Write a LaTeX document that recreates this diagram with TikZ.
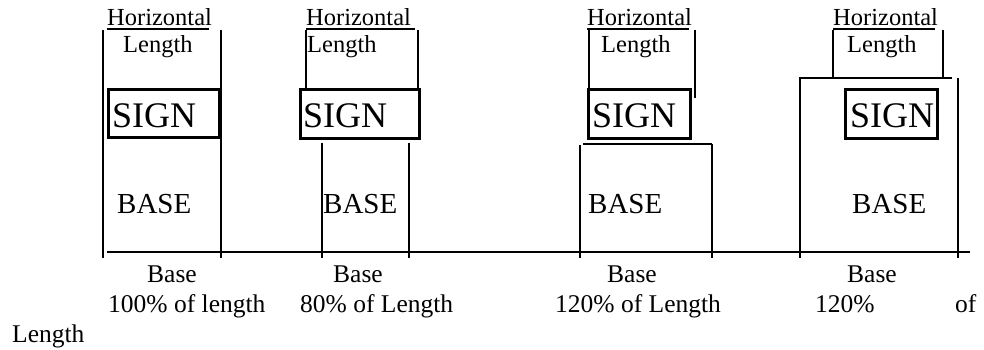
\documentclass[tikz,border=0pt]{standalone}
\usepackage{fontspec}
\setmainfont{Liberation Serif}
\begin{document}
\begin{tikzpicture}[x=1pt,y=-1pt,
  lbl/.style={inner sep=0pt,anchor=base west,font=\fontsize{24.5}{29}\selectfont},
  lblc/.style={inner sep=0pt,anchor=base,font=\fontsize{25.5}{30}\selectfont},
  lblw/.style={inner sep=0pt,anchor=base west,font=\fontsize{25.5}{30}\selectfont},
  signtxt/.style={inner sep=0pt,anchor=base west,font=\fontsize{36}{40}\selectfont},
  basetxt/.style={inner sep=0pt,anchor=base west,font=\fontsize{29}{34}\selectfont},
  ln/.style={line width=1.5pt},
  signbox/.style={line width=3pt},
  ul/.style={line width=1.2pt}]
\useasboundingbox (0,0) rectangle (984,350);
% Horizontal / Length labels
\node[lbl] (h1) at (107,26) {Horizontal};
\node[lbl] (h2) at (306,26) {Horizontal};
\node[lbl] (h3) at (587,26) {Horizontal};
\node[lbl] (h4) at (833,26) {Horizontal};
\draw[ul] (107,29) -- (209,29);
\draw[ul] (306,29) -- (415,29);
\draw[ul] (587,29) -- (689,29);
\draw[ul] (833,29) -- (935,29);
\node[lbl] (l1) at (123,53) {Length};
\node[lbl] (l2) at (307,53) {Length};
\node[lbl] (l3) at (601,53) {Length};
\node[lbl] (l4) at (847,53) {Length};
% SIGN boxes
\draw[signbox] (108,90) rectangle (219,137);
\draw[signbox] (300,90) rectangle (419,138);
\draw[signbox] (588,90) rectangle (690,138);
\draw[signbox] (845,90) rectangle (937,138);
\node[signtxt] (s1) at (112,128) {SIGN};
\node[signtxt] (s2) at (303,128) {SIGN};
\node[signtxt] (s3) at (592,128) {SIGN};
\node[signtxt] (s4) at (850,128) {SIGN};
% BASE texts
\node[basetxt] (b1) at (117,213) {BASE};
\node[basetxt] (b2) at (323,213) {BASE};
\node[basetxt] (b3) at (588,213) {BASE};
\node[basetxt] (b4) at (852,213) {BASE};
% panel 1
\draw[ln] (103,30) -- (103,258);
\draw[ln] (221,30) -- (221,258);
% panel 2
\draw[ln] (306,30) -- (306,90);
\draw[ln] (418,30) -- (418,90);
\draw[ln] (322,143) -- (322,258);
\draw[ln] (409,143) -- (409,258);
% panel 3
\draw[ln] (589,30) -- (589,88);
\draw[ln] (695,30) -- (695,98);
\draw[ln] (583,144) -- (712,144);
\draw[ln] (580,145) -- (580,258);
\draw[ln] (712,144) -- (712,258);
% panel 4
\draw[ln] (833,30) -- (833,78);
\draw[ln] (943,30) -- (943,78);
\draw[ln] (799,78) -- (952,78);
\draw[ln] (800,78) -- (800,258);
\draw[ln] (958,78) -- (958,258);
% ground
\draw[ln] (107,252) -- (970,252);
% bottom labels
\node[lblc] (bb1) at (172,282) {Base};
\node[lblc] (bb2) at (358,282) {Base};
\node[lblc] (bb3) at (632,282) {Base};
\node[lblc] (bb4) at (872,282) {Base};
\node[lblw] (p1) at (108,312) {100\% of length};
\node[lblw] (p2) at (300,312) {80\% of Length};
\node[lblw] (p3) at (555,312) {120\% of Length};
\node[lblw] (p4) at (815,312) {120\%};
\node[lblw] (p5) at (955,312) {of};
\node[lblw] (p6) at (12,342) {Length};
\end{tikzpicture}
\end{document}
